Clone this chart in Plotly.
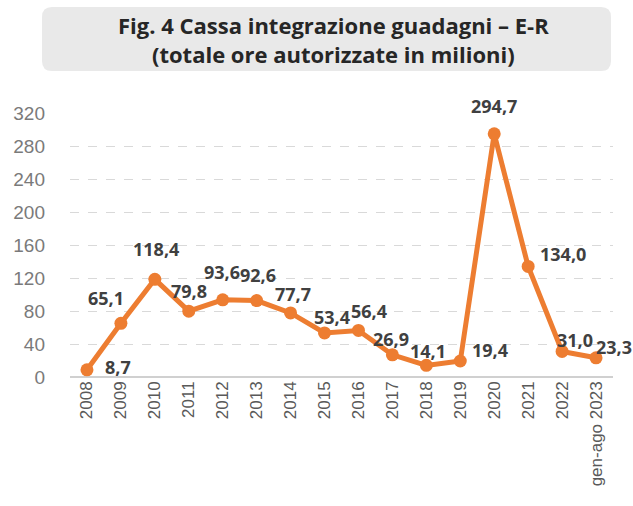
import plotly.graph_objects as go

years = ["2008", "2009", "2010", "2011", "2012", "2013", "2014", "2015",
         "2016", "2017", "2018", "2019", "2020", "2021", "2022", "gen-ago 2023"]
hours_mln = [8.7, 65.1, 118.4, 79.8, 93.6, 92.6, 77.7, 53.4,
             56.4, 26.9, 14.1, 19.4, 294.7, 134.0, 31.0, 23.3]
y_ticks = [0, 40, 80, 120, 160, 200, 240, 280, 320]
title_lines = ["Fig. 4 Cassa integrazione guadagni – E-R",
               "(totale ore autorizzate in milioni)"]

# label offsets (px) relative to each point
label_shift = [(31, 3), (-15, 25), (1, 30), (0, 20), (-1, 28), (1, 26), (2, 19), (7, 16),
               (11, 19), (-1, 16), (2, 14), (30, 11), (0, 28), (35, 12), (13, 11), (18, 11)]

W, H = 633, 506
ML, MR, MT, MB = 70, 20, 113, 129
PW, PH = W - ML - MR, H - MT - MB

fig = go.Figure()
fig.add_trace(go.Scatter(
    x=years, y=hours_mln, mode="lines+markers",
    line=dict(color="#ED7D31", width=5),
    marker=dict(color="#ED7D31", size=13),
    hoverinfo="skip", showlegend=False,
))

def fmt(v):
    return f"{v:.1f}".replace(".", ",")

for i, (v, (dx, dy)) in enumerate(zip(hours_mln, label_shift)):
    fig.add_annotation(x=i, y=v, xref="x", yref="y", text=f"<b>{fmt(v)}</b>", showarrow=False,
                       xshift=dx, yshift=dy, xanchor="center", yanchor="middle",
                       font=dict(family="Open Sans, Liberation Sans, sans-serif", size=18, color="#404040"))

# pixel -> paper coords (paper refers to plot area)
def px(x):
    return (x - ML) / PW
def py(y):
    return (H - MB - y) / PH

x0, x1, y0, y1, r = 42, 611, 7, 71, 10
path = (f"M {px(x0+r)},{py(y0)} L {px(x1-r)},{py(y0)} "
        f"Q {px(x1)},{py(y0)} {px(x1)},{py(y0+r)} L {px(x1)},{py(y1-r)} "
        f"Q {px(x1)},{py(y1)} {px(x1-r)},{py(y1)} L {px(x0+r)},{py(y1)} "
        f"Q {px(x0)},{py(y1)} {px(x0)},{py(y1-r)} L {px(x0)},{py(y0+r)} "
        f"Q {px(x0)},{py(y0)} {px(x0+r)},{py(y0)} Z")
fig.add_shape(type="path", path=path, xref="paper", yref="paper",
              fillcolor="#E9E9E9", line=dict(width=0), layer="below")

fig.add_annotation(x=px(333), y=py(39), xref="paper", yref="paper",
                   text="<b>" + "<br>".join(title_lines) + "</b>",
                   showarrow=False, xanchor="center", yanchor="middle",
                   font=dict(family="Open Sans, Liberation Sans, sans-serif", size=22, color="#262626"))

fig.update_layout(
    width=W, height=H,
    margin=dict(l=ML, r=MR, t=MT, b=MB, autoexpand=False),
    paper_bgcolor="white", plot_bgcolor="white",
    xaxis=dict(type="category", tickangle=-90, showgrid=False, showline=False,
               ticks="", zeroline=False, range=[-0.5, len(years) - 0.5], automargin=False,
               tickfont=dict(family="Liberation Sans, sans-serif", size=17, color="#595959")),
    yaxis=dict(range=[0, 320], tickvals=y_ticks, showgrid=True, automargin=False,
               gridcolor="#D9D9D9", griddash="dash", gridwidth=1,
               zeroline=True, zerolinecolor="#D0D0D0", zerolinewidth=2,
               showline=False, ticks="", ticklabelstandoff=24,
               tickfont=dict(family="Liberation Sans, sans-serif", size=19, color="#7A7A7A")),
)

fig.write_html("out.html", config={"displayModeBar": False},
               post_script="document.body.style.margin='0';document.body.style.overflow='hidden';")
